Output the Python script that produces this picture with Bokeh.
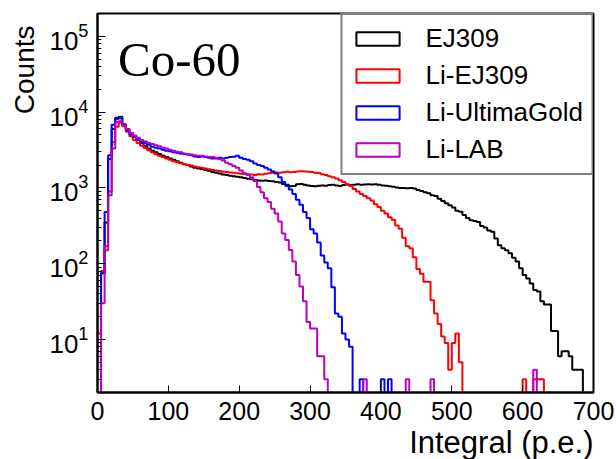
import numpy as np
from bokeh.plotting import figure
from bokeh.models import (Range1d, Label, Legend, LegendItem, Title,
                          SingleIntervalTicker, LogTicker)
from bokeh.embed import file_html
from bokeh.resources import INLINE

BIN_WIDTH = 5
X_MIN, X_MAX = 0, 700
Y_MIN, Y_MAX = 2, 2e5

SERIES_NAMES = ["EJ309", "Li-EJ309", "Li-UltimaGold", "Li-LAB"]
COLORS = ["#000000", "#ff0000", "#0000ff", "#bb00c0"]

# counts per 5 p.e. bin, bins [0,5), [5,10), ... [695,700)
ej309 = [
    0, 75, 350, 2400, 6000, 8200, 8700, 6900, 6000, 5300,
    4700, 4300, 3900, 3600, 3300, 3100, 2950, 2800, 2650, 2550,
    2450, 2350, 2250, 2150, 2050, 2000, 1920, 1850, 1800, 1780,
    1720, 1680, 1620, 1580, 1550, 1500, 1480, 1450, 1420, 1400,
    1380, 1350, 1320, 1300, 1270, 1250, 1240, 1250, 1230, 1220,
    1200, 1180, 1130, 1100, 1050, 1060, 1120, 1130, 1100, 1080,
    1060, 1050, 1070, 1080, 1070, 1090, 1100, 1080, 1060, 1090,
    1110, 1090, 1100, 1120, 1100, 1110, 1120, 1110, 1120, 1100,
    1080, 1070, 1050, 1040, 1010, 1000, 1000, 990, 1000, 980,
    940, 910, 880, 850, 800, 780, 720, 670, 630, 590,
    550, 500, 485, 440, 400, 375, 365, 355, 315, 300,
    275, 265, 215, 175, 160, 150, 137, 120, 107, 87,
    71, 64, 55, 45, 43, 32, 29, 29, 13, 13,
    6, 7, 7, 6, 4, 4, 4, 0, 0, 0,
]
li_ej309 = [
    12, 80, 150, 900, 4000, 6400, 7300, 6500, 5500, 4800,
    4300, 3900, 3600, 3350, 3150, 2950, 2800, 2650, 2550, 2450,
    2350, 2250, 2200, 2120, 2070, 2020, 1980, 1920, 1880, 1850,
    1800, 1760, 1720, 1700, 1670, 1640, 1620, 1600, 1580, 1560,
    1540, 1530, 1510, 1500, 1480, 1510, 1500, 1540, 1560, 1580,
    1600, 1590, 1610, 1640, 1610, 1620, 1650, 1660, 1650, 1640,
    1620, 1590, 1570, 1520, 1480, 1430, 1380, 1330, 1260, 1200,
    1120, 1060, 970, 900, 830, 780, 730, 680, 610, 560,
    500, 460, 410, 380, 320, 290, 220, 170, 160, 122,
    85, 74, 58, 58, 33, 22, 16, 11, 9, 4,
    9, 12, 5, 0, 0, 0, 0, 0, 0, 0,
    0, 0, 0, 0, 0, 0, 0, 0, 0, 0,
    3, 0, 0, 3, 3, 3, 0, 0, 0, 0,
    0, 0, 0, 0, 0, 0, 0, 0, 0, 0,
]
li_ultimagold = [
    0, 75, 480, 2700, 6800, 8400, 8300, 6800, 5800, 5100,
    4700, 4400, 4100, 3900, 3700, 3500, 3400, 3300, 3200, 3100,
    3050, 2950, 2900, 2850, 2800, 2750, 2700, 2600, 2550, 2600,
    2550, 2500, 2450, 2450, 2500, 2450, 2500, 2550, 2580, 2650,
    2500, 2400, 2350, 2250, 2100, 2000, 1950, 1850, 1750, 1650,
    1550, 1380, 1200, 1060, 950, 830, 700, 600, 480, 400,
    285, 250, 190, 128, 104, 87, 49, 22, 20, 12,
    10, 8, 0, 0, 3, 0, 0, 0, 0, 0,
    3, 0, 3, 0, 0, 0, 0, 0, 0, 0,
    0, 0, 0, 0, 0, 0, 0, 0, 0, 0,
    0, 0, 0, 0, 0, 0, 0, 0, 0, 0,
    0, 0, 0, 0, 0, 0, 0, 0, 0, 0,
    0, 0, 0, 0, 0, 0, 0, 0, 0, 0,
    0, 0, 0, 0, 0, 0, 0, 0, 0, 0,
]
li_lab = [
    0, 30, 170, 800, 3300, 7400, 7600, 6800, 6000, 5300,
    4900, 4600, 4300, 4100, 3900, 3800, 3650, 3550, 3400, 3300,
    3200, 3100, 3000, 2950, 2850, 2800, 2750, 2700, 2650, 2650,
    2600, 2550, 2550, 2500, 2400, 2300, 2150, 2050, 1950, 1850,
    1700, 1560, 1480, 1380, 1230, 1030, 880, 730, 650, 530,
    460, 360, 250, 205, 152, 107, 71, 50, 32, 17,
    14, 14, 6, 6, 3, 0, 0, 0, 0, 0,
    0, 0, 0, 0, 0, 3, 0, 0, 0, 0,
    0, 0, 0, 0, 0, 0, 0, 3, 0, 0,
    0, 0, 0, 0, 3, 0, 0, 0, 0, 0,
    0, 0, 0, 0, 0, 0, 0, 0, 0, 0,
    0, 0, 0, 0, 0, 0, 0, 0, 0, 0,
    0, 0, 0, 4, 0, 0, 0, 0, 0, 0,
    0, 0, 0, 0, 0, 0, 0, 0, 0, 0,
]
SERIES = [ej309, li_ej309, li_ultimagold, li_lab]

edges = np.arange(X_MIN, X_MAX + BIN_WIDTH, BIN_WIDTH)

p = figure(width=616, height=459,
           x_range=Range1d(X_MIN, X_MAX), y_range=Range1d(Y_MIN, Y_MAX),
           y_axis_type="log", output_backend="svg", toolbar_location=None,
           min_border_left=97, min_border_right=23,
           min_border_top=13, min_border_bottom=64)
p.background_fill_color = "white"
p.border_fill_color = "white"
p.xgrid.visible = False
p.ygrid.visible = False
p.outline_line_color = "black"
p.outline_line_width = 2

p.xaxis.ticker = SingleIntervalTicker(interval=100, num_minor_ticks=0)
p.yaxis.ticker = LogTicker(num_minor_ticks=10)
for ax in (p.xaxis[0], p.yaxis[0]):
    ax.axis_line_color = "black"
    ax.axis_line_width = 2
    ax.major_tick_line_color = "black"
    ax.minor_tick_line_color = "black"
    ax.major_tick_out = 0
    ax.minor_tick_out = 0
    ax.major_label_text_font = "Liberation Sans"
    ax.major_label_text_color = "black"
p.xaxis.major_label_text_font_size = "25px"
p.yaxis.major_label_text_font_size = "26px"
p.xaxis.major_tick_in = 7
p.yaxis.major_tick_in = 8
p.yaxis.minor_tick_in = 4
p.xaxis.major_label_standoff = 9
p.yaxis.major_label_standoff = 9

p.add_layout(Title(text="Counts", align="right", text_font="Liberation Sans",
                   text_font_size="28px", text_font_style="normal",
                   text_color="black", standoff=13, offset=12), "left")
p.add_layout(Title(text="Integral (p.e.)", align="right", text_font="Liberation Sans",
                   text_font_size="31px", text_font_style="normal",
                   text_color="black", standoff=0, offset=0), "below")

for counts, color in zip(SERIES, COLORS):
    c = np.asarray(counts, dtype=float)
    y = np.where(c > 0, c, Y_MIN / 4.0)
    y = np.append(y, y[-1])
    p.step(edges, y, mode="after", line_color=color, line_width=2)

items = []
for name, color in zip(SERIES_NAMES, COLORS):
    r = p.quad(left=[np.nan], right=[np.nan], top=[np.nan], bottom=[np.nan],
               fill_color=None, line_color=color, line_width=2)
    items.append(LegendItem(label=name, renderers=[r]))

legend = Legend(items=items, location="top_right", margin=0, padding=8,
                spacing=6, glyph_width=54, glyph_height=17, label_height=30,
                label_standoff=21, label_text_font="Liberation Sans",
                label_text_font_size="26px", label_text_color="black",
                border_line_color="black", border_line_width=2,
                background_fill_color="white", background_fill_alpha=1.0)
p.add_layout(legend)

p.add_layout(Label(x=29, y=4.9e4, text="Co-60", text_font="Liberation Serif",
                   text_font_size="49px", text_baseline="alphabetic",
                   text_color="black"))

open("out.html", "w").write(file_html(p, INLINE))
